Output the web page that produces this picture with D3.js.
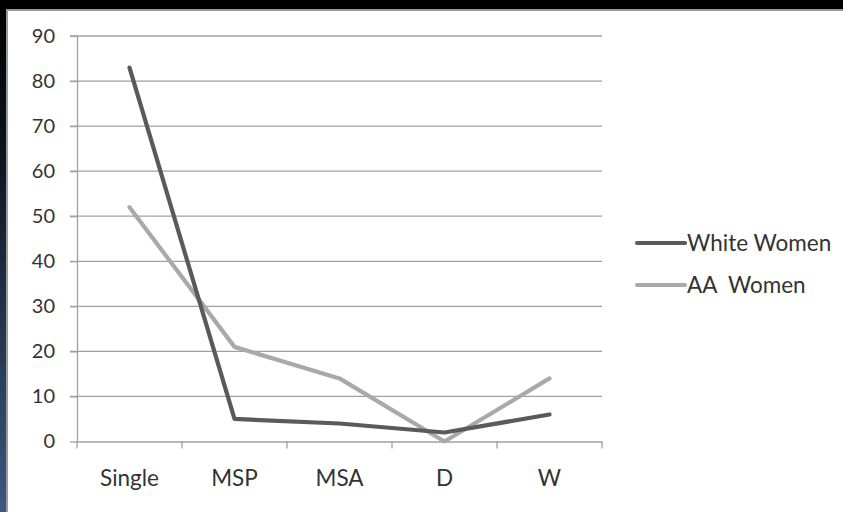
<!DOCTYPE html>
<html><head><meta charset="utf-8">
<script src="https://cdn.jsdelivr.net/npm/d3@7/dist/d3.min.js"></script>
<style>html,body{margin:0;padding:0;background:#000;}svg{display:block;}</style>
</head><body>
<svg id="c" width="843" height="512"></svg>
<script>
const categories = ["Single", "MSP", "MSA", "D", "W"];
const whiteWomen = [83, 5, 4, 2, 6];
const aaWomen = [52, 21, 14, 0, 14];
const yTicks = [0, 10, 20, 30, 40, 50, 60, 70, 80, 90];
const seriesNames = ["White Women", "AA  Women"];
const seriesColors = ["#5a5a5a", "#a9a9a9"];

const svg = d3.select("#c");
const defs = svg.append("defs");
const grad = defs.append("linearGradient").attr("id","lg").attr("x1",0).attr("y1",0).attr("x2",0).attr("y2",1);
grad.append("stop").attr("offset","0%").attr("stop-color","#000");
grad.append("stop").attr("offset","30%").attr("stop-color","#0d1420");
grad.append("stop").attr("offset","100%").attr("stop-color","#3d5780");

svg.append("rect").attr("x",0).attr("y",0).attr("width",843).attr("height",512).attr("fill","#000");
svg.append("rect").attr("x",0).attr("y",0).attr("width",7).attr("height",512).attr("fill","url(#lg)");
svg.append("rect").attr("x",6).attr("y",9).attr("width",837).attr("height",503).attr("fill","#9a9a9a");
svg.append("rect").attr("x",8).attr("y",11).attr("width",835).attr("height",501).attr("fill","#fff");

const x = d3.scaleBand().domain(categories).range([77, 602]);
const y = d3.scaleLinear().domain([0, 90]).range([441.5, 36]);
const font = "Lato, 'Open Sans', sans-serif";
const txt = "#333";

// gridlines
svg.append("g").selectAll("line").data(yTicks.filter(d => d > 0)).join("line")
  .attr("x1", 70).attr("x2", 602)
  .attr("y1", d => y(d)).attr("y2", d => y(d))
  .attr("stroke", "#a0a0a0").attr("stroke-width", 1.3);

// y axis
const yAxis = svg.append("g").attr("transform","translate(77,0)")
  .call(d3.axisLeft(y).tickValues(yTicks).tickSize(7).tickPadding(15).tickSizeOuter(0));
yAxis.select(".domain").attr("stroke","#a0a0a0").attr("stroke-width",1.3);
yAxis.selectAll(".tick line").attr("stroke","#a0a0a0").attr("stroke-width",1.3);
yAxis.selectAll("text").attr("font-family",font).attr("font-size",20).attr("fill",txt);

// x axis
const xAxis = svg.append("g").attr("transform",`translate(0,${y(0)})`)
  .call(d3.axisBottom(x).tickSize(0).tickPadding(0).tickSizeOuter(0));
xAxis.select(".domain").attr("stroke","#a0a0a0").attr("stroke-width",1.3);
xAxis.selectAll(".tick text").attr("font-family",font).attr("font-size",22.5).attr("fill",txt)
  .attr("dy", null).attr("y", 44);
// boundary ticks
const bounds = categories.map(c => x(c)).concat([x(categories[categories.length-1]) + x.bandwidth()]);
svg.append("g").selectAll("line").data(bounds).join("line")
  .attr("x1", d => d).attr("x2", d => d)
  .attr("y1", y(0)).attr("y2", y(0) + 7)
  .attr("stroke","#a0a0a0").attr("stroke-width",1.3);

const cx = c => x(c) + x.bandwidth()/2;
const line = d3.line().x((d,i) => cx(categories[i])).y(d => y(d));
[aaWomen, whiteWomen].forEach((s, k) => {
  const idx = k === 0 ? 1 : 0;
  svg.append("path").datum(s).attr("d", line).attr("fill","none")
    .attr("stroke", seriesColors[idx]).attr("stroke-width", 4.2)
    .attr("stroke-linecap","round").attr("stroke-linejoin","round");
});

// legend
const lg = svg.append("g");
const ly = [243, 285];
seriesNames.forEach((n, i) => {
  lg.append("line").attr("x1",637).attr("x2",685).attr("y1",ly[i]).attr("y2",ly[i])
    .attr("stroke",seriesColors[i]).attr("stroke-width",4.2).attr("stroke-linecap","round");
  lg.append("text").attr("x",687).attr("y",ly[i]).attr("dy","0.35em")
    .attr("font-family",font).attr("font-size",22.5).attr("fill",txt)
    .attr("xml:space","preserve").style("white-space","pre").text(n);
});
</script>
</body></html>
